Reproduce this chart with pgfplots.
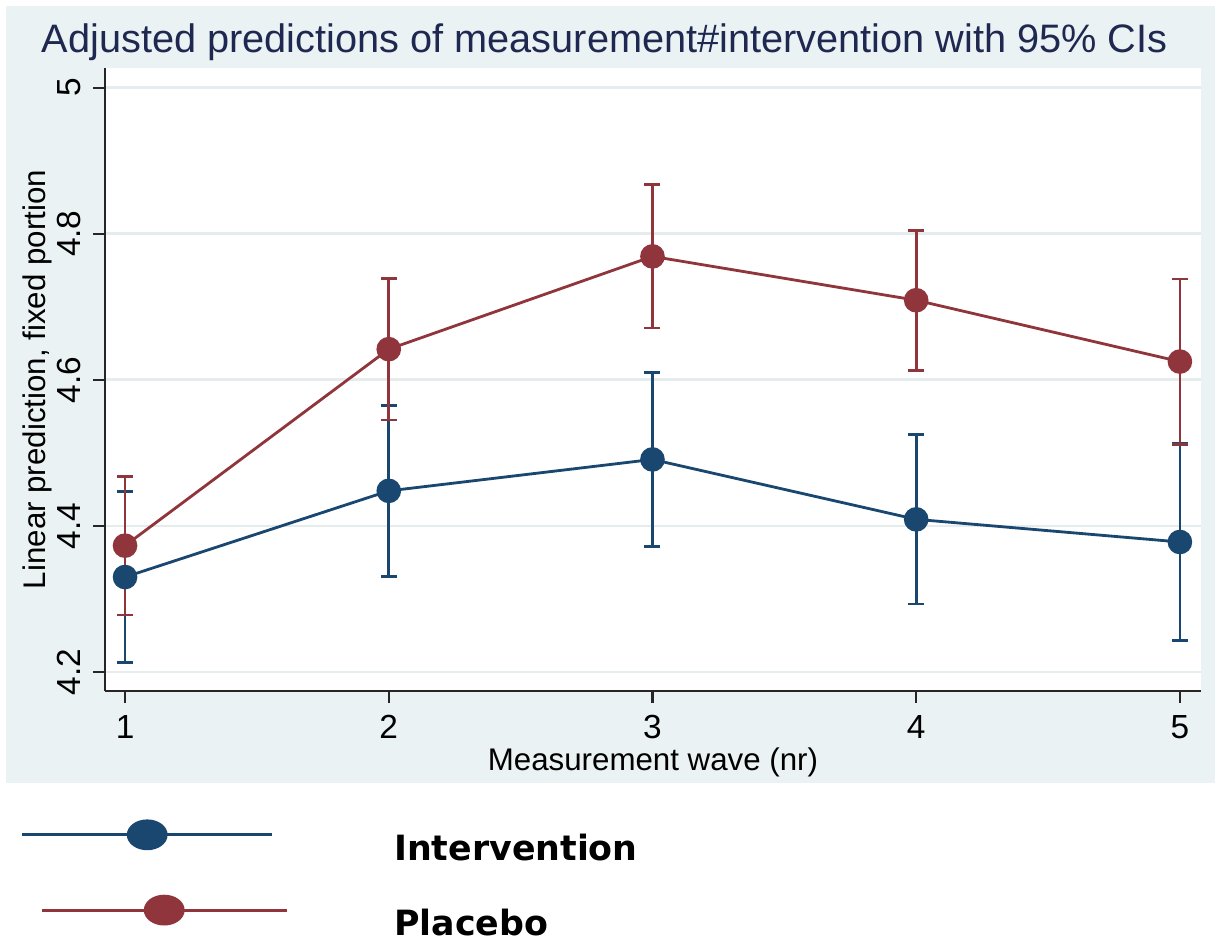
\documentclass[border=0pt]{standalone}
\usepackage{fontspec}
\setmainfont{Liberation Sans}
\newfontfamily\legfontfam{DejaVu Sans}
\usepackage{pgfplots}
\pgfplotsset{compat=1.18}
\usetikzlibrary{backgrounds}
\definecolor{navy}{RGB}{26,71,111}
\definecolor{maroon}{RGB}{144,53,59}
\definecolor{bgcol}{RGB}{234,242,243}
\definecolor{gridcol}{RGB}{228,236,238}
\definecolor{titlecol}{RGB}{30,40,80}
\begin{document}
\begin{tikzpicture}
\useasboundingbox (0,0) rectangle (12.15cm,9.39cm);
\begin{axis}[
  name=ax,
  at={(1.05cm,2.48cm)}, anchor=south west,
  scale only axis, width=10.96cm, height=6.23cm,
  xmin=0.924, xmax=5.080, ymin=4.174, ymax=5.027,
  axis lines*=left,
  axis line style={line width=0.6pt, color=black!85},
  tick align=outside,
  major tick length=0.12cm,
  tick style={line width=0.6pt, color=black!85},
  xtick={1,2,3,4,5},
  ytick={4.2,4.4,4.6,4.8,5},
  ymajorgrids,
  major grid style={color=gridcol, line width=0.8pt},
  /pgf/number format/assume math mode=true,
  yticklabel style={/pgf/number format/fixed, rotate=90, anchor=south, font=\fontsize{9.5}{11}\selectfont},
  xticklabel style={font=\fontsize{9.5}{11}\selectfont},
  xlabel={Measurement wave (nr)},
  ylabel={Linear prediction, fixed portion},
  xlabel style={at={(axis description cs:0.5,-0.114)}, anchor=center, font=\fontsize{8.9}{10}\selectfont},
  ylabel style={at={(axis description cs:-0.062,0.5)}, anchor=center, font=\fontsize{8.9}{10}\selectfont},
  every axis title shift=0pt,
  title={Adjusted predictions of measurement\#intervention with 95\% CIs},
  title style={at={(axis description cs:0.456,1.042)}, anchor=center, font=\fontsize{11.3}{13}\selectfont, color=titlecol},
  clip=false,
  legend style={at={(axis description cs:-0.0776,-0.205)}, anchor=north west, draw=none, fill=none, inner sep=0pt,
    font=\legfontfam\bfseries\fontsize{9.9}{11}\selectfont, row sep=0.22cm},
  legend cell align=left,
]
\addplot[navy, line width=0.8pt, mark=*, mark size=3.1pt,
  legend image code/.code={
    \path[draw=none, fill=none] (0,0) rectangle (3.65cm,0.01cm);
    \draw[navy, line width=0.9pt] (0,0.15cm) -- (2.5cm,0.15cm);
    \fill[navy] (1.25cm,0.15cm) ellipse [x radius=0.19cm, y radius=0.14cm];
  },
  error bars/.cd, y dir=both, y explicit,
  error bar style={line width=0.8pt},
  error mark options={rotate=90, mark size=0.08cm, line width=0.8pt}]
coordinates {
  (1,4.330) +- (0,0.117)
  (2,4.448) +- (0,0.117)
  (3,4.491) +- (0,0.119)
  (4,4.409) +- (0,0.116)
  (5,4.378) +- (0,0.135)
};
\addlegendentry{Intervention}
\addplot[maroon, line width=0.8pt, mark=*, mark size=3.1pt,
  legend image code/.code={
    \path[draw=none, fill=none] (0,0) rectangle (3.65cm,0.01cm);
    \draw[maroon, line width=0.9pt] (0.2cm,0.15cm) -- (2.65cm,0.15cm);
    \fill[maroon] (1.42cm,0.15cm) ellipse [x radius=0.19cm, y radius=0.14cm];
  },
  error bars/.cd, y dir=both, y explicit,
  error bar style={line width=0.8pt},
  error mark options={rotate=90, mark size=0.08cm, line width=0.8pt}]
coordinates {
  (1,4.373) +- (0,0.095)
  (2,4.642) +- (0,0.097)
  (3,4.769) +- (0,0.098)
  (4,4.709) +- (0,0.096)
  (5,4.625) +- (0,0.113)
};
\addlegendentry{Placebo}
\end{axis}
\begin{scope}[on background layer]
  \fill[bgcol] (0.06cm,1.56cm) rectangle (12.15cm,9.33cm);
  \fill[white] (ax.south west) rectangle (ax.north east);
\end{scope}
\end{tikzpicture}
\end{document}
